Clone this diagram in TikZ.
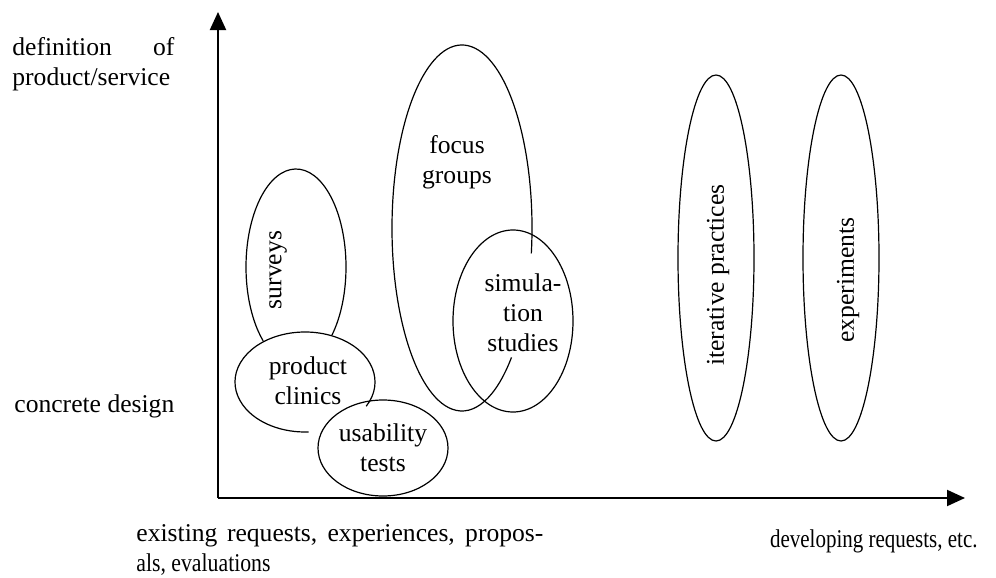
\documentclass[tikz,border=0pt]{standalone}
\usepackage{fontspec}
\setmainfont{Liberation Serif}
\usetikzlibrary{arrows.meta}
\tikzset{
  lbl/.style={inner sep=0pt, font=\fontsize{12.8pt}{15pt}\selectfont},
  axis/.style={line width=1pt, -{Triangle[length=9pt,width=8pt]}},
  blob/.style={line width=0.6pt},
}
% elliptical arc: center, x radius, y radius, start angle, end angle
\newcommand\ellarc[5]{\draw[blob] (#1) ++(#4:#2 and #3) arc[start angle=#4, end angle=#5, x radius=#2, y radius=#3];}
\begin{document}
\begin{tikzpicture}[x=0.5pt, y=0.5pt]
\useasboundingbox (0,0) rectangle (996,-578);

% axes
\coordinate (o) at (218,-498);
\coordinate (ytip) at (218,-12);
\coordinate (xtip) at (965,-498);
\draw[axis] (o) -- (ytip);
\draw[axis] (o) -- (xtip);

% axis labels
\node[lbl, anchor=north west, align=left] (top) at (12,-37)
  {\makebox[81pt][s]{definition of}\\product/service};
\node[lbl, anchor=base west] (bottom) at (14,-412) {concrete design};
\node[lbl, anchor=north west, align=left] (left) at (136,-524)
  {\makebox[203.5pt][s]{existing requests, experiences, propos-}\\\scalebox{0.85}[1]{als, evaluations}};
\node[lbl, anchor=base east] (right) at (978,-547) {\scalebox{0.82}[1]{developing requests, etc.}};

% methods
\coordinate (cs) at (296,-267);
\coordinate (cp) at (305,-382);
\coordinate (cu) at (383,-448);
\coordinate (cf) at (462,-228);
\coordinate (cm) at (513,-321);
\coordinate (ci) at (716,-258);
\coordinate (ce) at (841,-258);

\ellarc{cs}{25pt}{49pt}{-44}{229}
\ellarc{cp}{35pt}{25pt}{-29}{273}
\draw[blob] (cu) ellipse[x radius=32.5pt, y radius=24pt];
\ellarc{cf}{35pt}{91.5pt}{-8}{315}
\draw[blob] (cm) ellipse[x radius=30pt, y radius=45.5pt];
\draw[blob] (ci) ellipse[x radius=19pt, y radius=91.5pt];
\draw[blob] (ce) ellipse[x radius=19pt, y radius=91.5pt];

\node[lbl, rotate=90] (surveys) at (278,-270) {surveys};
\node[lbl, align=center] (clinics) at (308,-381) {product\\clinics};
\node[lbl, align=center] (usability) at (383,-448) {usability\\tests};
\node[lbl, align=center] (focus) at (457,-162) {focus\\groups};
\node[lbl, align=center] (simulation) at (523,-313) {simula-\\tion\\studies};
\node[lbl, rotate=90] (iterative) at (718,-275) {iterative practices};
\node[lbl, rotate=90] (experiments) at (848,-280) {experiments};
\end{tikzpicture}
\end{document}
